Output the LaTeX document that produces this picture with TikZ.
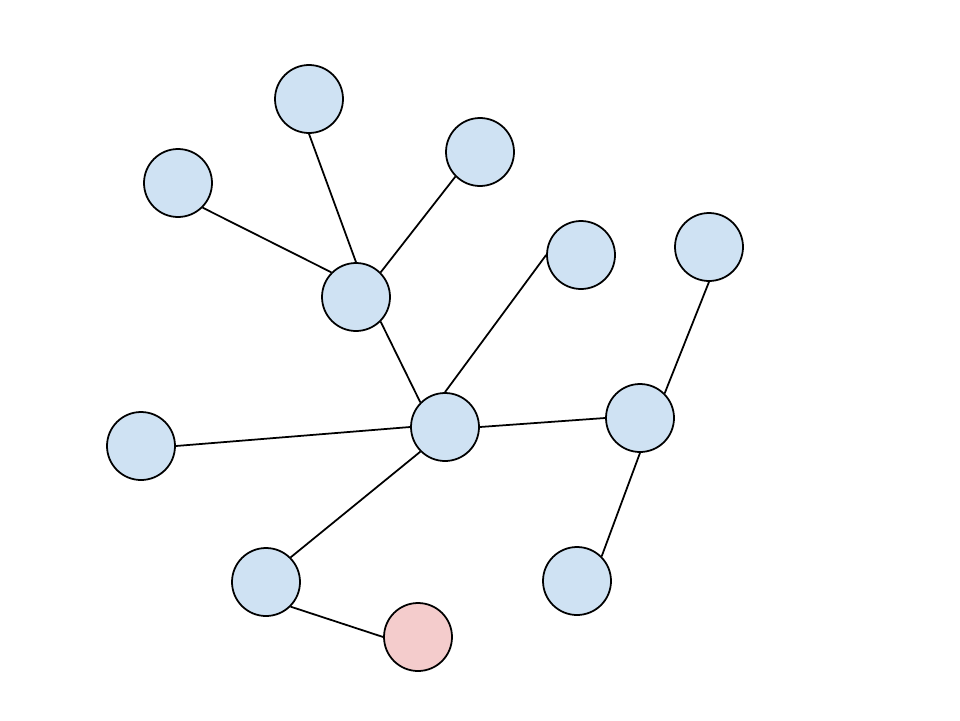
\documentclass[tikz,border=0pt]{standalone}
\usetikzlibrary{positioning}
\definecolor{nodeblue}{RGB}{207,226,243}
\definecolor{nodepink}{RGB}{244,204,204}

\begin{document}
\begin{tikzpicture}[line width=1pt,
    vtx/.style={circle, draw, fill=nodeblue, minimum size=1.36cm, inner sep=0pt},
    leaf/.style={vtx, fill=nodepink}]
  \useasboundingbox (0,0) rectangle (19.2,-14.4);
  % ---- upper cluster
  \node[vtx] (top) at (6.18,-1.98) {};
  \node[vtx] (upleft) at (3.56,-3.66) {};
  \node[vtx] (upright) at (9.60,-3.04) {};
  \node[vtx] (hub) at (7.12,-5.94) {};
  % ---- centre and right
  \node[vtx] (mid) at (8.90,-8.54) {};
  \node[vtx] (midup) at (11.62,-5.10) {};
  \node[vtx] (farup) at (14.18,-4.94) {};
  \node[vtx] (right) at (12.80,-8.36) {};
  \node[vtx] (left) at (2.82,-8.92) {};
  % ---- bottom
  \node[vtx] (botleft) at (5.32,-11.64) {};
  \node[vtx] (botright) at (11.54,-11.62) {};
  \node[leaf] (end) at (8.36,-12.74) {};
  % ---- edges (attached at fixed points of the circles)
  \draw (upleft.south east) -- (hub.north west);
  \draw (top.south) -- (hub.north);
  \draw (upright.south west) -- (hub.north east);
  \draw (hub.south east) -- (mid.north west);
  \draw (midup.west) -- (mid.north);
  \draw (left.east) -- (mid.west);
  \draw (mid.east) -- (right.west);
  \draw (right.north east) -- (farup.south);
  \draw (right.south) -- (botright.north east);
  \draw (mid.south west) -- (botleft.north east);
  \draw (botleft.south east) -- (end.west);
\end{tikzpicture}
\end{document}
